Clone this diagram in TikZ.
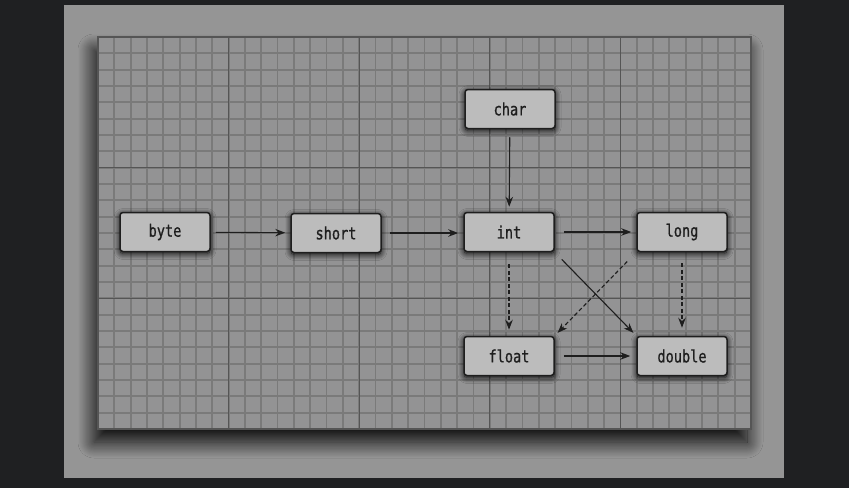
\documentclass[tikz,border=0pt]{standalone}
\usepackage{fontspec}
\newfontfamily\typefont[FakeStretch=0.8,FakeBold=0.9]{DejaVu Sans Mono}
\usetikzlibrary{arrows.meta,positioning,shadows.blur}
\definecolor{pageback}{HTML}{1F2022}
\definecolor{sheet}{HTML}{959595}
\definecolor{gridfill}{HTML}{939394}
\definecolor{gridfine}{HTML}{7A7A7A}
\definecolor{gridmajor}{HTML}{555555}
\definecolor{boxfill}{HTML}{BCBCBC}
\definecolor{boxink}{HTML}{1E1E1E}
\tikzset{
  ty/.style={rounded corners=3pt, draw=boxink, line width=1.5pt, fill=boxfill, minimum width=90pt, minimum height=39pt, inner sep=0pt,
    font=\typefont\fontsize{17}{17}\selectfont, text=boxink,
    blur shadow={shadow xshift=0pt, shadow yshift=-2pt, shadow blur radius=6pt, shadow opacity=100, shadow blur steps=12}},
  conv/.style={-{Stealth[length=10pt,width=7.5pt]}, line width=1.1pt, color=boxink},
  lossy/.style={conv, dash pattern=on 4pt off 2.5pt},
  fine/.style={draw=gridfine, line width=1.8pt},
  major/.style={draw=gridmajor, line width=1.1pt},
}
\begin{document}
\begin{tikzpicture}[x=1pt, y=-1pt]
  % background and sheet
  \fill[pageback] (0,0) rectangle (849,488);
  \fill[sheet] (64,5) rectangle (784,478);
  % graph paper
  \path[fill=gridfill, blur shadow={shadow xshift=-4pt, shadow yshift=-13pt, shadow blur radius=16pt, shadow opacity=95, shadow blur steps=30}] (98,37) rectangle (751,429);
  \foreach \k in {1,...,39} \draw[fine] (98+\k*16.325,37) -- (98+\k*16.325,429);
  \foreach \k in {1,...,23} \draw[fine] (98,37+\k*16.333) -- (751,37+\k*16.333);
  \foreach \k in {1,...,4} \draw[major] (98+\k*130.6,37) -- (98+\k*130.6,429);
  \foreach \k in {1,2} \draw[major] (98,37+\k*130.67) -- (751,37+\k*130.67);
  \draw[major, line width=1.8pt] (98,37) rectangle (751,429);
  % types
  \node[ty] (byte) at (165,232) {byte};
  \node[ty] (short) at (336,233) {short};
  \node[ty] (char) at (510,109) {char};
  \node[ty] (int) at (509,232) {int};
  \node[ty] (long) at (682,232) {long};
  \node[ty] (float) at (509,356) {float};
  \node[ty] (double) at (682,356) {double};
  % conversions
  \draw[conv, shorten <=5pt, shorten >=5pt] (byte) -- (short);
  \draw[conv, shorten <=8pt, shorten >=5pt] (short.east) -- (int.west |- short.east);
  \draw[conv, shorten <=8pt, shorten >=5pt] (char) -- (int);
  \draw[conv, shorten <=9pt, shorten >=5pt] (int) -- (long);
  \draw[conv, shorten <=9pt, shorten >=6pt] (float) -- (double);
  \draw[conv, shorten <=10pt, shorten >=4pt] (int.south east) -- (double.north west);
  \draw[lossy, shorten <=12pt, shorten >=6pt] (int) -- (float);
  \draw[lossy, shorten <=11pt, shorten >=8pt] (long) -- (double);
  \draw[lossy, shorten <=13pt, shorten >=4pt] (long.south west) -- (float.north east);
\end{tikzpicture}
\end{document}
